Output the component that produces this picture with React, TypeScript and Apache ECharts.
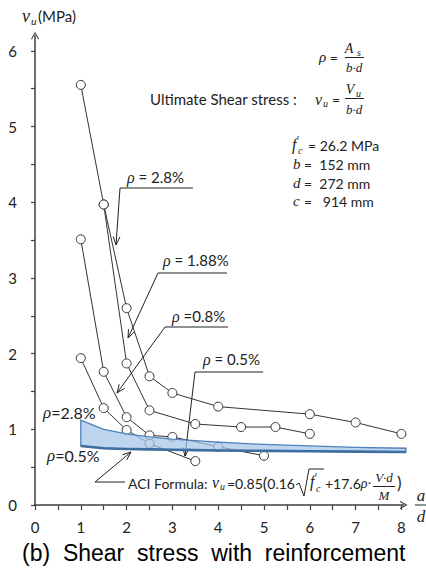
import React, { useEffect, useRef } from "react";
import * as echarts from "echarts";

// ---- data ----
const rho28X = [1, 1.5, 2, 2.5, 3, 4, 6, 7, 8];
const rho28Y = [5.55, 3.97, 2.6, 1.7, 1.48, 1.3, 1.2, 1.09, 0.94];
const rho188X = [1.5, 2, 2.5, 3.5, 4.5, 5.25, 6];
const rho188Y = [3.97, 1.87, 1.25, 1.07, 1.03, 1.03, 0.94];
const rho08X = [1, 1.5, 2, 2.5, 3, 4, 5];
const rho08Y = [3.51, 1.76, 1.16, 0.92, 0.9, 0.77, 0.65];
const rho05X = [1, 1.5, 2, 2.5, 3.5];
const rho05Y = [1.94, 1.28, 0.99, 0.81, 0.58];

// ACI formula band (upper: rho=2.8%, lower: rho=0.5%)
const aciX = [1, 1.5, 2, 2.5, 3, 3.5, 4, 5, 6, 7, 8.1];
const aciUpper = [1.12, 1.0, 0.94, 0.9, 0.87, 0.85, 0.83, 0.8, 0.78, 0.76, 0.75];
const aciLower = [0.78, 0.75, 0.74, 0.735, 0.73, 0.725, 0.72, 0.715, 0.71, 0.705, 0.7];

const xLabelVals = [0, 1, 2, 3, 4, 5, 6, 7, 8];
const xTickVals = [0, 0.5, 1, 1.5, 2, 2.5, 3, 3.5, 4, 4.5, 5, 5.5, 6, 6.5, 7, 7.5, 8];
const yLabelVals = [0, 1, 2, 3, 4, 5, 6];
const yTickVals = [0, 0.5, 1, 1.5, 2, 2.5, 3, 3.5, 4, 4.5, 5, 5.5, 6];

const INK = "#222";
const AXIS = "#404040";
const SANS = "Lato";
const SERIF = "Liberation Serif";
const CHEVRON = "path://M5 0 L10 9 L8.8 9.8 L5 2.6 L1.2 9.8 L0 9 Z";

function pairs(xs: number[], ys: number[]) {
  return xs.map((x, i) => [x, ys[i]]);
}

function txt(x: number, y: number, text: string, opts: any = {}) {
  return {
    type: "text",
    x,
    y,
    silent: true,
    style: {
      text,
      fill: opts.fill || INK,
      fontSize: opts.size || 14,
      fontFamily: opts.family || SANS,
      fontStyle: opts.italic ? "italic" : "normal",
      align: opts.align || "left",
      verticalAlign: "middle",
      rich: opts.rich,
    },
  };
}

function seg(pts: number[][], w = 1, color = INK) {
  return {
    type: "polyline",
    silent: true,
    shape: { points: pts },
    style: { stroke: color, lineWidth: w, fill: "none" },
  };
}

function arrowHead(x1: number, y1: number, x2: number, y2: number, len = 9, ang = 0.38) {
  const a = Math.atan2(y2 - y1, x2 - x1);
  return seg([
    [x2 - len * Math.cos(a - ang), y2 - len * Math.sin(a - ang)],
    [x2, y2],
    [x2 - len * Math.cos(a + ang), y2 - len * Math.sin(a + ang)],
  ]);
}

const rhoRich = (size: number) => ({
  i: { fontFamily: SERIF, fontStyle: "italic", fontSize: size + 1, fill: INK },
  t: { fontFamily: SANS, fontSize: size, fill: INK },
});

function rhoLabel(x: number, y: number, rest: string, size = 15) {
  return txt(x, y, `{i|ρ}{t|${rest}}`, { rich: rhoRich(size), size });
}

function buildGraphic() {
  const g: any[] = [];
  // y axis name
  g.push(txt(22, 16, "v", { family: SERIF, italic: true, size: 18 }));
  g.push(txt(31, 21, "u", { family: SERIF, italic: true, size: 11 }));
  g.push(txt(38, 16, "(MPa)", { size: 15 }));
  // x axis name a/d
  g.push(txt(421, 495, "a", { family: SERIF, italic: true, size: 17, align: "center" }));
  g.push(seg([[415, 505], [427, 505]], 1));
  g.push(txt(421, 516, "d", { family: SERIF, italic: true, size: 17, align: "center" }));

  // rho = As / b·d
  g.push(txt(319, 57, "{i|ρ}{t| =}", { rich: rhoRich(14), size: 14 }));
  g.push(txt(349, 48, "A", { family: SERIF, italic: true, size: 14, align: "center" }));
  g.push(txt(357, 52, "s", { family: SERIF, italic: true, size: 10 }));
  g.push(seg([[345, 57.5], [364, 57.5]], 1));
  g.push(txt(354, 67, "b·d", { family: SERIF, italic: true, size: 13, align: "center" }));

  // Ultimate Shear stress
  g.push(txt(150, 99, "Ultimate Shear stress :", { size: 15 }));
  g.push(txt(315, 99, "v", { family: SERIF, italic: true, size: 16 }));
  g.push(txt(323, 103, "u", { family: SERIF, italic: true, size: 10 }));
  g.push(txt(332, 99, "=", { size: 14 }));
  g.push(txt(350, 89, "V", { family: SERIF, italic: true, size: 14, align: "center" }));
  g.push(txt(356, 93, "u", { family: SERIF, italic: true, size: 10 }));
  g.push(seg([[345, 98.5], [364, 98.5]], 1));
  g.push(txt(354, 109, "b·d", { family: SERIF, italic: true, size: 13, align: "center" }));

  // material properties
  g.push(txt(292, 144, "f", { family: SERIF, italic: true, size: 16 }));
  g.push(txt(297, 139, "′", { family: SERIF, size: 11 }));
  g.push(txt(298, 150, "c", { family: SERIF, italic: true, size: 10 }));
  g.push(txt(308, 145, "= 26.2 MPa", { size: 14 }));
  g.push(txt(293, 164, "b", { family: SERIF, italic: true, size: 15 }));
  g.push(txt(304, 164, "=  152 mm", { size: 14 }));
  g.push(txt(293, 183, "d", { family: SERIF, italic: true, size: 15 }));
  g.push(txt(304, 183, "=  272 mm", { size: 14 }));
  g.push(txt(293, 201, "c", { family: SERIF, italic: true, size: 15 }));
  g.push(txt(304, 201, "=   914 mm", { size: 14 }));

  // rho labels with leaders
  g.push(rhoLabel(127, 177, " = 2.8%"));
  g.push(seg([[193, 188], [120, 188], [116, 245]]));
  g.push(arrowHead(120, 188, 116, 245));

  g.push(rhoLabel(163, 260, " = 1.88%"));
  g.push(seg([[227, 273], [158, 273], [128, 338]]));
  g.push(arrowHead(158, 273, 128, 338));

  g.push(rhoLabel(172, 316, " =0.8%"));
  g.push(seg([[228, 327], [165, 327], [117, 393]]));
  g.push(arrowHead(165, 327, 117, 393));

  g.push(rhoLabel(203, 359, " = 0.5%"));
  g.push(seg([[263, 372], [195, 372], [185, 456]]));
  g.push(arrowHead(195, 372, 185, 456));

  g.push(rhoLabel(43, 412, "=2.8%", 16));
  g.push(rhoLabel(47, 455, "=0.5%", 16));

  // ACI formula leader
  g.push(seg([[125, 482], [95, 482], [131, 452]]));
  g.push(arrowHead(95, 482, 131, 452));

  // ACI formula text
  g.push(txt(128, 483, "ACI Formula:", { size: 14 }));
  g.push(txt(212, 482, "v", { family: SERIF, italic: true, size: 16 }));
  g.push(txt(220, 486, "u", { family: SERIF, italic: true, size: 10 }));
  g.push(
    txt(227, 483, "{t|=0.85}{p|(}{t|0.16}", {
      size: 14,
      rich: {
        t: { fontFamily: SANS, fontSize: 14, fill: INK },
        p: { fontFamily: SANS, fontSize: 17, fill: INK },
      },
    })
  );
  g.push(seg([[296, 485], [299, 483], [304, 496], [309, 469], [324, 469]], 1));
  g.push(txt(310, 481, "f", { family: SERIF, italic: true, size: 16 }));
  g.push(txt(315, 476, "′", { family: SERIF, size: 10 }));
  g.push(txt(316, 488, "c", { family: SERIF, italic: true, size: 10 }));
  g.push(
    txt(325, 483, "{t|+17.6}{i|ρ·}", {
      size: 14,
      rich: {
        t: { fontFamily: SANS, fontSize: 14, fill: INK },
        i: { fontFamily: SERIF, fontStyle: "italic", fontSize: 14, fill: INK },
      },
    })
  );
  g.push(txt(384, 477, "V·d", { family: SERIF, italic: true, size: 13, align: "center" }));
  g.push(seg([[373, 486.5], [395, 486.5]], 1));
  g.push(txt(384, 495, "M", { family: SERIF, italic: true, size: 13, align: "center" }));
  g.push(txt(397, 482, ")", { size: 17 }));

  // caption
  g.push(
    txt(22, 553, "(b)  Shear  stress  with  reinforcement", {
      family: "Liberation Sans",
      size: 23,
      fill: "#000",
    })
  );
  return g;
}

function lineSeries(name: string, xs: number[], ys: number[]) {
  return {
    name,
    type: "line",
    data: pairs(xs, ys),
    symbol: "circle",
    symbolSize: 9,
    showAllSymbol: true,
    itemStyle: { color: "#fff", borderColor: "#333", borderWidth: 1 },
    lineStyle: { color: "#333", width: 1 },
    z: 2,
    silent: true,
  };
}

export default function App() {
  const ref = useRef<HTMLDivElement>(null);
  useEffect(() => {
    if (!ref.current) return;
    const chart = echarts.init(ref.current, null, { renderer: "svg" });
    const axisLineStyle = { color: AXIS, width: 1.5 };
    const option: any = {
      animation: false,
      backgroundColor: "#fff",
      grid: { left: 35, right: 22.3, top: 35.7, bottom: 64, containLabel: false, outerBoundsMode: "none" },
      xAxis: {
        type: "value",
        min: 0,
        max: 8.05,
        interval: 0.5,
        splitLine: { show: false },
        axisLine: { show: true, onZero: false, symbol: ["none", CHEVRON], symbolSize: [8, 8], lineStyle: axisLineStyle },
        axisTick: { show: true, length: 5, customValues: xTickVals, lineStyle: { color: AXIS, width: 1.2 } },
        axisLabel: { customValues: xLabelVals, margin: 14, fontSize: 15, fontFamily: SANS, color: INK },
      },
      yAxis: {
        type: "value",
        min: 0,
        max: 6.2,
        interval: 0.5,
        splitLine: { show: false },
        axisLine: { show: true, onZero: false, symbol: ["none", CHEVRON], symbolSize: [8, 8], lineStyle: axisLineStyle },
        axisTick: { show: true, length: 4, customValues: yTickVals, lineStyle: { color: AXIS, width: 1.2 } },
        axisLabel: { customValues: yLabelVals, margin: 18, fontSize: 15, fontFamily: SANS, color: INK },
      },
      series: [
        lineSeries("ρ = 2.8%", rho28X, rho28Y),
        lineSeries("ρ = 1.88%", rho188X, rho188Y),
        lineSeries("ρ = 0.8%", rho08X, rho08Y),
        lineSeries("ρ = 0.5%", rho05X, rho05Y),
        {
          name: "ACI",
          type: "custom",
          coordinateSystem: "cartesian2d",
          data: aciX.map((x, i) => [x, aciUpper[i], aciLower[i]]),
          encode: { x: 0, y: [1, 2] },
          clip: false,
          z: 5,
          silent: true,
          renderItem: (params: any, api: any) => {
            if (params.dataIndex !== 0) return null;
            const top = aciX.map((x, i) => api.coord([x, aciUpper[i]]));
            const bot = aciX.map((x, i) => api.coord([x, aciLower[i]]));
            return {
              type: "group",
              children: [
                {
                  type: "polygon",
                  shape: { points: [...top, ...bot.slice().reverse()] },
                  style: { fill: "rgba(165,197,234,0.72)", stroke: "#4f81bd", lineWidth: 1.3 },
                },
                {
                  type: "polyline",
                  shape: { points: bot },
                  style: { fill: "none", stroke: "#3d6e9f", lineWidth: 2.6 },
                },
              ],
            };
          },
        },
      ],
      graphic: buildGraphic(),
    };
    chart.setOption(option);
    return () => chart.dispose();
  }, []);
  return (
    <div
      ref={ref}
      style={{ position: "fixed", left: 0, top: 0, width: 426, height: 569, background: "#fff" }}
    />
  );
}
